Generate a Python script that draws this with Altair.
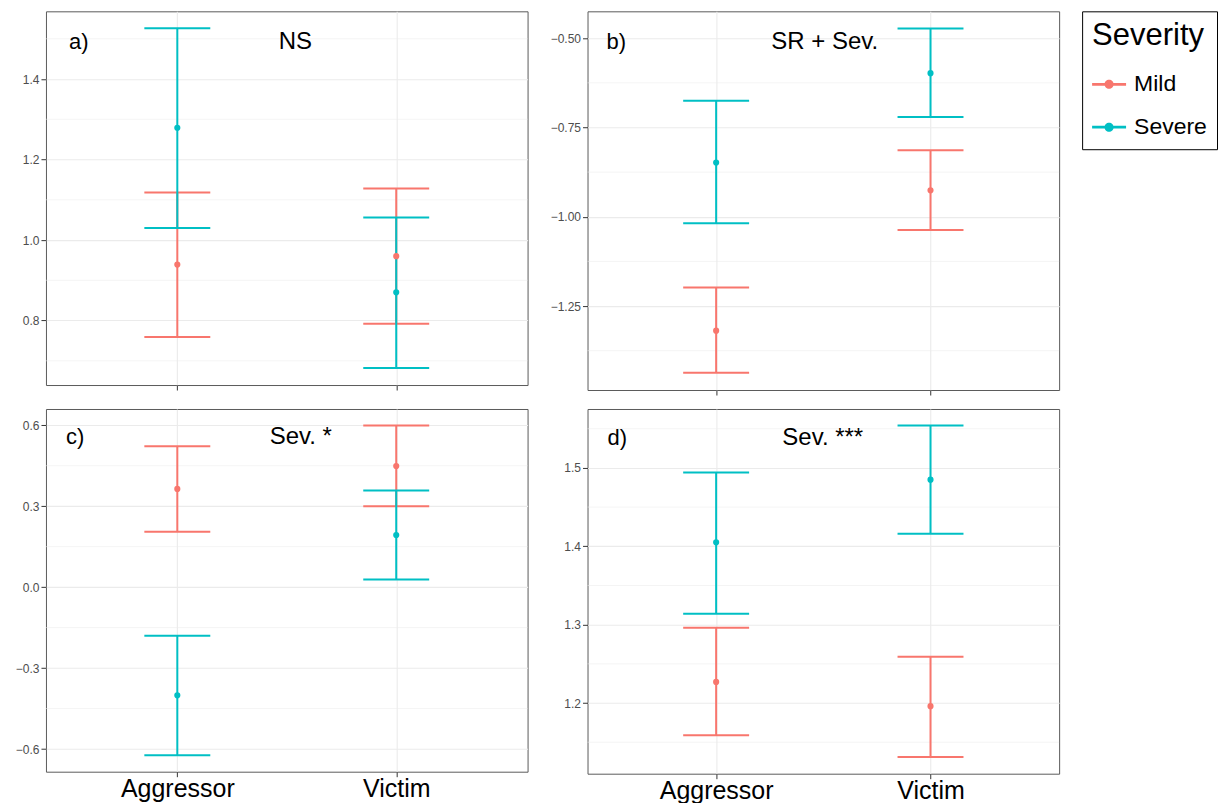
import altair as alt
import pandas as pd

ROLES = ["Aggressor", "Victim"]
SEVERITY = ["Mild", "Severe"]
COLORS = ["#F8766D", "#00BFC4"]

# panel a (NS)
A_MILD_MEAN = [0.939, 0.960]
A_MILD_LO = [0.759, 0.792]
A_MILD_HI = [1.118, 1.128]
A_SEV_MEAN = [1.279, 0.870]
A_SEV_LO = [1.030, 0.682]
A_SEV_HI = [1.526, 1.056]
A_TICKS = [0.8, 1.0, 1.2, 1.4]
A_MINOR = [0.7, 0.9, 1.1, 1.3, 1.5]

# panel b (SR + Sev.)
B_MILD_MEAN = [-1.319, -0.926]
B_MILD_LO = [-1.437, -1.037]
B_MILD_HI = [-1.198, -0.814]
B_SEV_MEAN = [-0.848, -0.598]
B_SEV_LO = [-1.018, -0.721]
B_SEV_HI = [-0.675, -0.473]
B_TICKS = [-1.25, -1.0, -0.75, -0.5]
B_MINOR = [-1.375, -1.125, -0.875, -0.625]

# panel c (Sev. *)
C_MILD_MEAN = [0.364, 0.449]
C_MILD_LO = [0.205, 0.300]
C_MILD_HI = [0.522, 0.599]
C_SEV_MEAN = [-0.401, 0.193]
C_SEV_LO = [-0.623, 0.028]
C_SEV_HI = [-0.180, 0.358]
C_TICKS = [-0.6, -0.3, 0.0, 0.3, 0.6]
C_MINOR = [-0.45, -0.15, 0.15, 0.45]

# panel d (Sev. ***)
D_MILD_MEAN = [1.227, 1.196]
D_MILD_LO = [1.159, 1.131]
D_MILD_HI = [1.296, 1.259]
D_SEV_MEAN = [1.405, 1.485]
D_SEV_LO = [1.314, 1.416]
D_SEV_HI = [1.494, 1.554]
D_TICKS = [1.2, 1.3, 1.4, 1.5]
D_MINOR = [1.15, 1.25, 1.35, 1.45, 1.55]

PANEL_TAGS = ["a)", "b)", "c)", "d)"]
PANEL_TESTS = ["NS", "SR + Sev.", "Sev. *", "Sev. ***"]

FONT = "Liberation Sans"
LEGEND_SYMBOL = ("M-1,-0.08H1V0.08H-1Z "
                 "M0.27,0A0.27,0.27 0 1,1 -0.27,0A0.27,0.27 0 1,1 0.27,0Z")

cscale = alt.Scale(domain=SEVERITY, range=COLORS)


def panel(mild, sev, ticks, minor, fmt, tag, test, width, height,
          yext, tagpos, testpos, bottom):
    rows = []
    for s, (mean, lo, hi) in zip(SEVERITY, [mild, sev]):
        for i, r in enumerate(ROLES):
            rows.append({"role": r, "sev": s, "mean": mean[i],
                         "lo": lo[i], "hi": hi[i]})
    df = pd.DataFrame(rows)
    lo_all = min(mild[1] + sev[1])
    hi_all = max(mild[2] + sev[2])
    rng = hi_all - lo_all
    dom = [lo_all - 0.05 * rng, hi_all + 0.05 * rng]

    yscale = alt.Scale(domain=dom, nice=False, zero=False)
    yaxis = alt.Axis(title=None, values=ticks, format=fmt, minExtent=yext,
                     maxExtent=yext, titlePadding=0, labelFontSize=12,
                     labelColor="#4d4d4d", tickSize=5, labelPadding=2,
                     grid=True, labelOverlap=False, labelFlush=False)
    if bottom:
        xaxis = alt.Axis(title=None, labels=True, labelFontSize=25,
                         labelColor="black", labelPadding=0, tickSize=5,
                         grid=True, labelAngle=0, titlePadding=0)
    else:
        xaxis = alt.Axis(title=None, labels=False, tickSize=5, grid=True,
                         minExtent=5, maxExtent=5, titlePadding=0)
    xenc = alt.X("role:N", scale=alt.Scale(type="point", domain=ROLES,
                                           padding=0.6), axis=xaxis)

    layers = [alt.Chart(pd.DataFrame({"v": minor})).mark_rule(
        color="#ebebeb", strokeWidth=0.55).encode(
        y=alt.Y("v:Q", scale=yscale, axis=yaxis))]

    base = alt.Chart(df)
    for s, c in zip(SEVERITY, COLORS):
        sub = base.transform_filter(alt.datum.sev == s)
        layers.append(sub.mark_rule(strokeWidth=2, color=c).encode(
            x=xenc, y=alt.Y("lo:Q", scale=yscale, axis=yaxis), y2="hi:Q"))
        layers.append(sub.mark_tick(size=66, thickness=2, opacity=1,
                                    color=c).encode(
            x=xenc, y=alt.Y("lo:Q", scale=yscale, axis=yaxis)))
        layers.append(sub.mark_tick(size=66, thickness=2, opacity=1,
                                    color=c).encode(
            x=xenc, y=alt.Y("hi:Q", scale=yscale, axis=yaxis)))

    layers.append(base.mark_circle(size=38, opacity=1).encode(
        x=xenc, y=alt.Y("mean:Q", scale=yscale, axis=yaxis),
        color=alt.Color("sev:N", scale=cscale, legend=alt.Legend(
            title="Severity", orient="right", offset=22,
            padding=10, strokeColor="#000000",
            titleFontSize=31, titleFont=FONT, titleColor="black",
            titleFontWeight="normal", labelFontSize=23, labelFont=FONT,
            labelColor="black", symbolType=LEGEND_SYMBOL, symbolSize=1156,
            symbolStrokeWidth=0, rowPadding=14, titlePadding=15,
            labelOffset=8))))

    layers.append(alt.Chart(pd.DataFrame({"t": [tag]})).mark_text(
        align="left", baseline="alphabetic", fontSize=22, font=FONT,
        color="black").encode(text="t:N", x=alt.value(tagpos[0]),
                              y=alt.value(tagpos[1])))
    layers.append(alt.Chart(pd.DataFrame({"t": [test]})).mark_text(
        align="left", baseline="alphabetic", fontSize=24, font=FONT,
        color="black").encode(text="t:N", x=alt.value(testpos[0]),
                              y=alt.value(testpos[1])))

    return alt.layer(*layers).properties(width=width, height=height)


pa = panel((A_MILD_MEAN, A_MILD_LO, A_MILD_HI), (A_SEV_MEAN, A_SEV_LO, A_SEV_HI),
           A_TICKS, A_MINOR, ".1f", PANEL_TAGS[0], PANEL_TESTS[0], 482, 374,
           37, (23, 38), (233, 38), False)
pb = panel((B_MILD_MEAN, B_MILD_LO, B_MILD_HI), (B_SEV_MEAN, B_SEV_LO, B_SEV_HI),
           B_TICKS, B_MINOR, ".2f", PANEL_TAGS[1], PANEL_TESTS[1], 472, 379,
           45, (19, 38), (184, 38), False)
pc = panel((C_MILD_MEAN, C_MILD_LO, C_MILD_HI), (C_SEV_MEAN, C_SEV_LO, C_SEV_HI),
           C_TICKS, C_MINOR, ".1f", PANEL_TAGS[2], PANEL_TESTS[2], 482, 363,
           37, (20, 35), (224, 35), True)
pd_ = panel((D_MILD_MEAN, D_MILD_LO, D_MILD_HI), (D_SEV_MEAN, D_SEV_LO, D_SEV_HI),
            D_TICKS, D_MINOR, ".1f", PANEL_TAGS[3], PANEL_TESTS[3], 472, 365,
            45, (20, 36), (195, 36), True)

chart = alt.concat(pa, pb, pc, pd_, columns=2,
                   spacing={"row": 12, "column": 13}).resolve_scale(
    x="independent", y="independent", color="shared"
).properties(
    padding={"left": 0, "top": 2, "right": 0, "bottom": 0},
    background="white",
).configure(font=FONT).configure_axis(
    domain=False, gridColor="#ebebeb", gridWidth=1.1, tickColor="#333333",
    tickWidth=1, labelFont=FONT
).configure_view(stroke="#5a5a5a", strokeWidth=1).configure_legend(
    strokeWidth=1)

chart.save("out.html", embed_options={"renderer": "svg", "actions": False})
